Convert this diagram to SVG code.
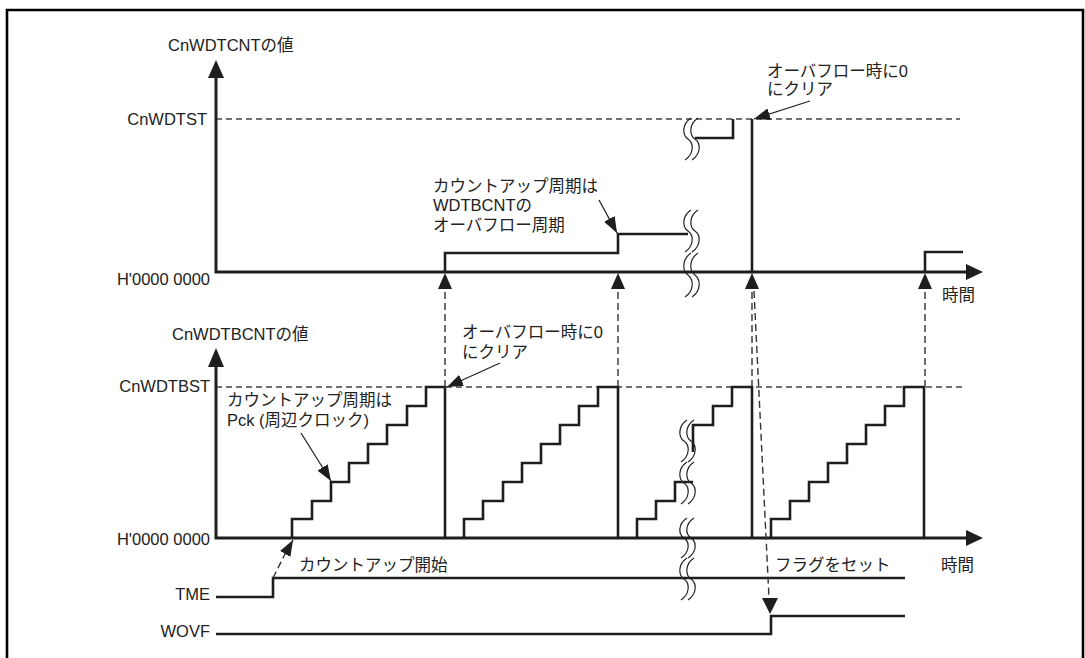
<svg xmlns="http://www.w3.org/2000/svg" width="1085" height="658" viewBox="0 0 1085 658">
<defs>
<style>
text{font-family:"Liberation Sans","Noto Sans CJK JP",sans-serif;font-size:16.5px;fill:#222}
.r{text-anchor:end}
.s{fill:none;stroke:#1e1e1e;stroke-width:2.6;stroke-linejoin:miter}
.ax{fill:none;stroke:#1e1e1e;stroke-width:3}
.d{fill:none;stroke:#444;stroke-width:1.4;stroke-dasharray:6 4}
.dv{fill:none;stroke:#333;stroke-width:1.4;stroke-dasharray:7 4}
.a{fill:none;stroke:#222;stroke-width:1.3}
.br{fill:none;stroke:#222;stroke-width:1.2}
.h{fill:#1e1e1e}
</style>
<marker id="ah" markerWidth="17" markerHeight="12" refX="16" refY="6" orient="auto" markerUnits="userSpaceOnUse"><path d="M0,0 L16,6 L0,12 z" fill="#1e1e1e"/></marker>
</defs>
<rect width="1085" height="658" fill="#fff"/>
<path d="M7,658 V10 H1083 V658" fill="none" stroke="#000" stroke-width="2.6"/>

<g id="top-chart">
<text x="168" y="51">CnWDTCNTの値</text>
<text class="r" x="207" y="125">CnWDTST</text>
<text class="r" x="210" y="285">H'0000 0000</text>
<text x="942" y="301">時間</text>
<path class="d" d="M216,119 H960"/>
<path class="ax" d="M216,78 V272 H967"/>
<polygon class="h" points="208,78 216,60 224,78"/>
<polygon class="h" points="966,264 983,272 966,280"/>
<path class="s" d="M445,272 V253 H618 V234 H688"/>
<path class="s" d="M695,138 H733 V119"/>
<path class="s" d="M752,272 V119"/>
<path class="s" d="M925,272 V252 H963"/>
</g>

<g id="top-annotations">
<text x="433" y="192">カウントアップ周期は</text>
<text x="433" y="211">WDTBCNTの</text>
<text x="433" y="231">オーバフロー周期</text>
<path class="a" d="M599,200 L617,233" marker-end="url(#ah)"/>
<text x="767" y="77">オーバフロー時に0</text>
<text x="767" y="95">にクリア</text>
<path class="a" d="M810,101 L754,119" marker-end="url(#ah)"/>
</g>

<g id="lower-chart">
<text x="172" y="340">CnWDTBCNTの値</text>
<text class="r" x="210" y="392">CnWDTBST</text>
<text class="r" x="210" y="545">H'0000 0000</text>
<text x="941" y="571">時間</text>
<path class="d" d="M216,387 H962"/>
<path class="ax" d="M216,367 V538 H967"/>
<polygon class="h" points="208,367 216,348 224,367"/>
<polygon class="h" points="966,530 983,538 966,546"/>
<path class="s" d="M292,538 V519 H312 V501 H331 V482 H349 V463 H368 V444 H387 V425 H407 V406 H426 V387 H445 V538"/>
<path class="s" d="M464,538 V519 H483 V501 H503 V482 H522 V463 H541 V444 H560 V425 H579 V406 H598 V387 H618 V538"/>
<path class="s" d="M637,538 V519 H656 V501 H675 V482 H693"/>
<path class="s" d="M693,452 V425 H713 V406 H732 V387 H752 V538"/>
<path class="s" d="M771,538 V519 H790 V501 H809 V482 H828 V463 H847 V444 H866 V425 H885 V406 H904 V387 H924 V538"/>
</g>

<g id="lower-annotations">
<text x="227" y="406">カウントアップ周期は</text>
<text x="227" y="426">Pck (周辺クロック)</text>
<path class="a" d="M301,433 L331,481" marker-end="url(#ah)"/>
<text x="462" y="338">オーバフロー時に0</text>
<text x="462" y="358">にクリア</text>
<path class="a" d="M500,363 L447,387" marker-end="url(#ah)"/>
</g>

<g id="signals">
<text class="r" x="210" y="600">TME</text>
<text class="r" x="210" y="637">WOVF</text>
<text x="299" y="571">カウントアップ開始</text>
<text x="775" y="571">フラグをセット</text>
<path class="s" d="M216,597 H273 V578 H905"/>
<path class="s" d="M216,634 H771 V616 H905"/>
</g>

<g id="connectors">
<path class="dv" d="M445,387 V289"/>
<path class="dv" d="M618,387 V289"/>
<path class="dv" d="M752,387 V289"/>
<path class="dv" d="M925,387 V289"/>
<polygon class="h" points="438,289 445,273 452,289"/>
<polygon class="h" points="611,289 618,273 625,289"/>
<polygon class="h" points="745,289 752,273 759,289"/>
<polygon class="h" points="918,289 925,273 932,289"/>
<path class="dv" d="M754,291 L769,598"/>
<polygon class="h" points="762,598 770,614 778,598"/>
<path class="dv" d="M273,578 L284,556"/>
<path class="a" d="M284,556 L293,540" stroke="none" marker-end="url(#ah)"/>
</g>

<g id="breaks">
<path class="br" d="M691,118 C682,124 682,135 688,139 C694,143 694,154 685,160 M698,118 C689,124 689,135 695,139 C701,143 701,154 692,160"/>
<path class="br" d="M691,210 C682,216 682,227 688,231 C694,235 694,246 685,252 M698,210 C689,216 689,227 695,231 C701,235 701,246 692,252"/>
<path class="br" d="M691,253 C682,259 682,271 688,275 C694,280 694,291 685,297 M698,253 C689,259 689,271 695,275 C701,280 701,291 692,297"/>
<path class="br" d="M687,420 C678,426 678,437 684,441 C690,445 690,456 681,462 M694,420 C685,426 685,437 691,441 C697,445 697,456 688,462"/>
<path class="br" d="M687,462 C678,468 678,479 684,483 C690,487 690,498 681,504 M694,462 C685,468 685,479 691,483 C697,487 697,498 688,504"/>
<path class="br" d="M687,518 C678,524 678,534 684,538 C690,542 690,552 681,558 M694,518 C685,524 685,534 691,538 C697,542 697,552 688,558"/>
<path class="br" d="M687,558 C678,564 678,575 684,579 C690,583 690,594 681,600 M694,558 C685,564 685,575 691,579 C697,583 697,594 688,600"/>
</g>
</svg>
